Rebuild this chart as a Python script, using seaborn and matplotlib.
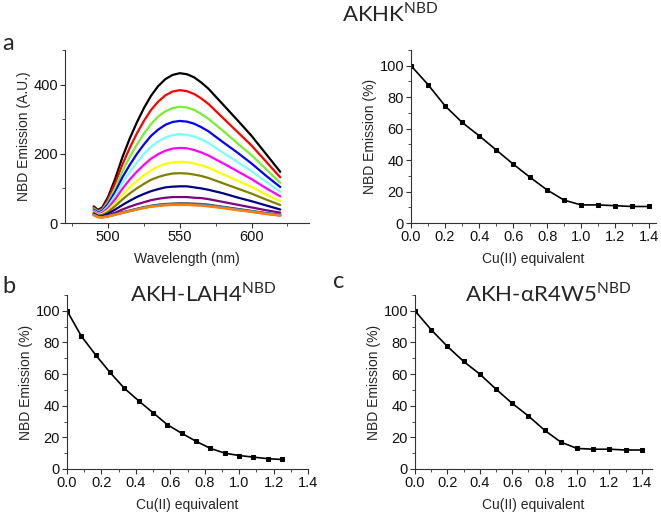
import numpy as np
import pandas as pd
import matplotlib
matplotlib.use("Agg")
import matplotlib.pyplot as plt
import seaborn as sns
from matplotlib.ticker import MultipleLocator

# =========================================
# DATA
# =========================================
wavelength = [490, 493, 496, 500, 505, 510, 515, 520, 525, 530, 535, 540, 545,
              550, 555, 560, 565, 570, 580, 590, 600, 610, 620]

spec_black = [48, 38, 45, 75, 128, 190, 243, 290, 332, 368, 396, 416, 428,
              433, 430, 421, 406, 388, 343, 298, 252, 200, 148]
spec_red = [45, 35, 41, 68, 115, 169, 216, 258, 295, 327, 351, 369, 380,
            384, 381, 373, 360, 344, 304, 264, 224, 178, 132]
spec_green = [42, 33, 38, 61, 101, 149, 190, 226, 258, 286, 308, 323, 332,
              336, 334, 327, 315, 301, 267, 231, 196, 156, 116]
spec_blue = [39, 30, 35, 55, 90, 132, 167, 199, 227, 252, 270, 284, 292,
             295, 293, 287, 277, 265, 234, 204, 172, 137, 104]
spec_cyan = [36, 28, 32, 49, 80, 116, 146, 174, 199, 220, 236, 247, 254,
             257, 255, 250, 242, 231, 204, 177, 150, 120, 90]
spec_magenta = [34, 26, 29, 43, 69, 99, 125, 148, 168, 186, 199, 209, 215,
                217, 216, 211, 204, 195, 173, 150, 127, 101, 77]
spec_yellow = [31, 24, 26, 37, 58, 82, 103, 121, 138, 152, 163, 171, 175,
               177, 176, 172, 167, 160, 141, 123, 104, 83, 63]
spec_olive = [29, 22, 23, 32, 49, 68, 85, 100, 113, 125, 133, 139, 143,
              144, 143, 140, 136, 130, 115, 100, 85, 68, 52]
spec_navy = [27, 20, 20, 27, 39, 52, 64, 75, 84, 92, 98, 103, 105,
             106, 106, 103, 100, 96, 86, 74, 63, 51, 39]
spec_purple = [25, 18, 18, 22, 30, 39, 47, 54, 60, 66, 70, 73, 75,
               75, 75, 73, 72, 69, 61, 53, 45, 37, 30]
spec_wine = [24, 18, 17, 20, 25, 31, 36, 41, 46, 50, 53, 55, 56,
             57, 57, 56, 55, 53, 47, 41, 35, 29, 24]
spec_dcyan = [24, 18, 17, 20, 25, 30, 35, 40, 45, 49, 52, 54, 55,
              55, 55, 54, 53, 51, 46, 40, 34, 28, 23]
spec_royal = [23, 17, 17, 19, 24, 30, 35, 40, 44, 48, 51, 53, 54,
              54, 54, 53, 52, 50, 45, 39, 33, 27, 22]
spec_gray = [23, 17, 16, 19, 24, 29, 34, 39, 44, 48, 50, 52, 53,
             53, 53, 52, 51, 49, 44, 38, 33, 27, 22]
spec_orange = [23, 17, 16, 19, 24, 29, 34, 39, 43, 47, 49, 51, 52,
               52, 52, 51, 50, 48, 43, 37, 32, 26, 21]

spectra = [spec_black, spec_red, spec_green, spec_blue, spec_cyan, spec_magenta,
           spec_yellow, spec_olive, spec_navy, spec_purple, spec_wine, spec_dcyan,
           spec_royal, spec_gray, spec_orange]
spec_colors = ["#000000", "#FF0000", "#77EE33", "#0000FF", "#77FFFF", "#FF00FF",
               "#FFFF00", "#808000", "#000080", "#800080", "#555555", "#008080",
               "#4169E1", "#999999", "#FF8000"]

# titration curves
cu_akhk = [0.0, 0.1, 0.2, 0.3, 0.4, 0.5, 0.6, 0.7, 0.8, 0.9, 1.0, 1.1, 1.2, 1.3, 1.4]
em_akhk = [100, 88, 74.5, 64, 55.5, 46.5, 37.5, 29, 21, 14.5, 11.5, 11.5, 11, 10.5, 10.5]

cu_lah4 = [0.0, 0.083, 0.167, 0.25, 0.333, 0.417, 0.5, 0.583, 0.667, 0.75,
           0.833, 0.917, 1.0, 1.083, 1.167, 1.25]
em_lah4 = [100, 84, 72, 61, 51, 43, 35.5, 28, 22.5, 17.5, 13, 10, 8.5, 7.5, 6.5, 6]

cu_r4w5 = [0.0, 0.1, 0.2, 0.3, 0.4, 0.5, 0.6, 0.7, 0.8, 0.9, 1.0, 1.1, 1.2, 1.3, 1.4]
em_r4w5 = [100, 88, 77.5, 68, 60, 50.5, 41.5, 33.5, 24.5, 17, 13, 12.5, 12.5, 12, 12]

# =========================================
# STYLE
# =========================================
sns.set_style("ticks")
plt.rcParams["font.family"] = ["Liberation Sans", "DejaVu Sans"]
plt.rcParams["mathtext.fontset"] = "custom"
plt.rcParams["mathtext.rm"] = "Lato"
plt.rcParams["xtick.direction"] = "out"
plt.rcParams["ytick.direction"] = "out"

fig = plt.figure(figsize=(6.61, 5.13), dpi=100)


def style_axes(ax):
    sns.despine(ax=ax)
    for sp in ["left", "bottom"]:
        ax.spines[sp].set_linewidth(0.8)
        ax.spines[sp].set_color("#333333")
    ax.tick_params(which="major", length=3.5, width=0.8, labelsize=10.5, pad=1.5,
                   color="#333333", labelcolor="#111111")
    ax.tick_params(which="minor", length=2, width=0.6, color="#333333")


# ---- panel a, spectra
ax_a = fig.add_axes([0.0983, 0.5653, 0.3691, 0.3372])
rows = []
for i, s in enumerate(spectra):
    for w, v in zip(wavelength, s):
        rows.append({"wl": w, "em": v, "curve": i})
df_spec = pd.DataFrame(rows)
sns.lineplot(data=df_spec, x="wl", y="em", hue="curve", palette=spec_colors,
             linewidth=1.6, legend=False, ax=ax_a, sort=False)
ax_a.set_xlim(470, 640)
ax_a.set_ylim(0, 500)
ax_a.set_xticks([500, 550, 600])
ax_a.set_yticks([0, 200, 400])
ax_a.xaxis.set_minor_locator(MultipleLocator(25))
ax_a.yaxis.set_minor_locator(MultipleLocator(100))
ax_a.set_xlabel("Wavelength (nm)", fontsize=10, labelpad=6)
ax_a.set_ylabel("NBD Emission (A.U.)", fontsize=10, labelpad=2)
style_axes(ax_a)


def titration(rect, x, y, xmax):
    ax = fig.add_axes(rect)
    sns.lineplot(x=x, y=y, color="black", marker="s", markersize=3.5,
                 markeredgecolor="black", linewidth=1.2, ax=ax)
    ax.set_xlim(0, xmax)
    ax.set_ylim(0, 110)
    ax.set_xticks(np.arange(0, 1.41, 0.2))
    ax.set_yticks([0, 20, 40, 60, 80, 100])
    ax.xaxis.set_minor_locator(MultipleLocator(0.1))
    ax.yaxis.set_minor_locator(MultipleLocator(10))
    ax.set_xlabel("Cu(II) equivalent", fontsize=10, labelpad=6)
    ax.set_ylabel("NBD Emission (%)", fontsize=10, labelpad=2)
    style_axes(ax)
    return ax


ax_r = titration([0.6218, 0.5653, 0.3707, 0.3372], cu_akhk, em_akhk, 1.44)
ax_b = titration([0.1014, 0.0858, 0.3646, 0.3392], cu_lah4, em_lah4, 1.4)
ax_c = titration([0.6278, 0.0858, 0.3586, 0.3392], cu_r4w5, em_r4w5, 1.463)

# ---- titles and panel letters
tfont = dict(family=["Lato", "DejaVu Sans"], fontsize=16)
fig.text(342 / 661, 1 - 21 / 513, r"AKHK$^{\mathrm{NBD}}$", ha="left", va="baseline", **tfont)
fig.text(130 / 661, 1 - 302 / 513, r"AKH-LAH4$^{\mathrm{NBD}}$", ha="left", va="baseline", **tfont)
fig.text(465 / 661, 1 - 302 / 513, r"AKH-αR4W5$^{\mathrm{NBD}}$", ha="left", va="baseline", **tfont)

lfont = dict(family=["Lato", "DejaVu Sans"], fontsize=17)
fig.text(2 / 661, 1 - 50 / 513, "a", ha="left", va="baseline", **lfont)
fig.text(2 / 661, 1 - 293 / 513, "b", ha="left", va="baseline", **lfont)
fig.text(333 / 661, 1 - 288 / 513, "c", ha="left", va="baseline", **lfont)

fig.savefig("out.png", dpi=100)
